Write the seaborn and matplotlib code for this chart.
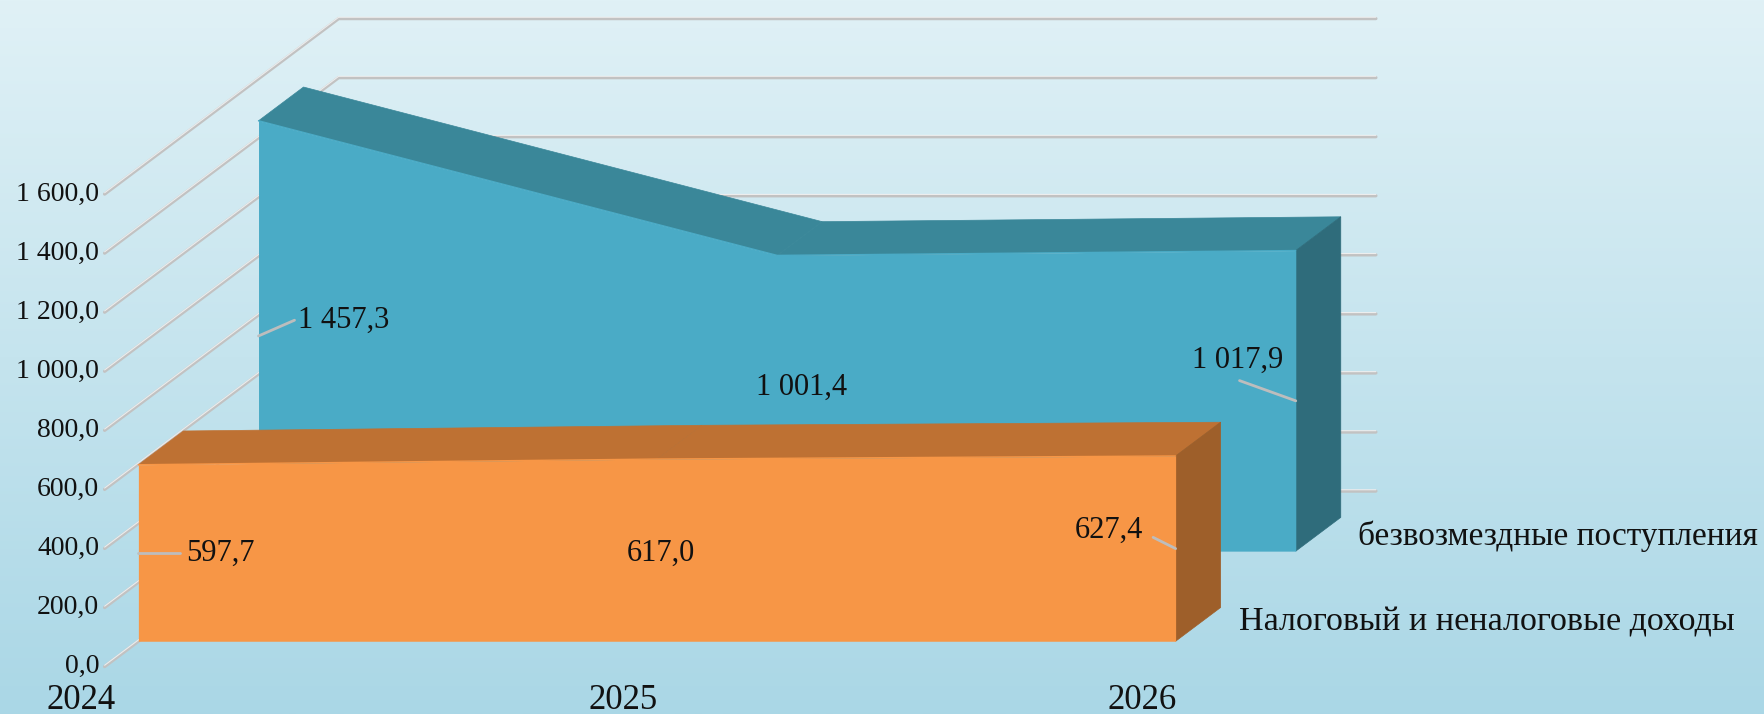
import numpy as np
import pandas as pd
import matplotlib
matplotlib.use('Agg')
import matplotlib.pyplot as plt
import seaborn as sns

years = ['2024', '2025', '2026']
grants = [1457.3, 1001.4, 1017.9]
own_income = [597.7, 617.0, 627.4]
grants_labels = ['1 457,3', '1 001,4', '1 017,9']
own_labels = ['597,7', '617,0', '627,4']
series_names = ['безвозмездные поступления', 'Налоговый и неналоговые доходы']
y_ticks = [0, 200, 400, 600, 800, 1000, 1200, 1400, 1600]
y_tick_labels = ['0,0', '200,0', '400,0', '600,0', '800,0', '1 000,0', '1 200,0', '1 400,0', '1 600,0']

sns.set_style('white')
plt.rcParams['font.family'] = ['Liberation Serif', 'DejaVu Serif']

S = 1764 / 1568   # layout was measured on a 1568px wide copy
XPX = 461.0 * S    # px per year step
YPX = 0.2625 * S   # px per value unit
DX = 40 * S / XPX  # one unit of depth: right and up
DY = 30 * S / YPX


def proj(i, v, d):
    return i + d * DX, v + d * DY


def off(xy, dxp, dyp):
    # shift a data point by screen pixels (dyp positive = down)
    return xy[0] + dxp * S / XPX, xy[1] - dyp * S / YPX


fig = plt.figure(figsize=(17.64, 7.14), dpi=100)
ax = fig.add_axes([0, 0, 1, 1])
x0, x1 = -123 * S / XPX, (1764 - 123 * S) / XPX
y0, y1 = (570 * S - 714) / YPX, 570 * S / YPX
ax.set_xlim(x0, x1)
ax.set_ylim(y0, y1)
ax.axis('off')

# background gradient
top = np.array([224, 241, 246]) / 255
bot = np.array([170, 215, 230]) / 255
t = np.linspace(0, 1, 256)[:, None]
grad = (top[None, :] * (1 - t) + bot[None, :] * t)[:, None, :]
ax.imshow(grad, extent=[x0, x1, y0, y1], aspect='auto', zorder=0)

D_FRONT, D_BACK = -0.75, 4.45
grid_c = '#c2c2c2'
txt_c = '#111111'

# back wall and left wall grid
n = len(years) - 1
for v, lab in zip(y_ticks, y_tick_labels):
    bx, by = proj(0, v, D_BACK)
    ex, ey = proj(n, v, D_BACK)
    fx, fy = proj(0, v, D_FRONT)
    ax.plot([fx, bx, ex], [fy, by, ey], color=grid_c, lw=2.4, zorder=1, solid_joinstyle='miter')
    ax.plot([fx, bx, ex], [fy + 1.3 / YPX, by + 1.3 / YPX, ey + 1.3 / YPX], color='white', lw=0.8, alpha=0.7, zorder=1)
    ax.text(*off((fx, fy), -5, 0), lab, ha='right', va='center', fontsize=20, color=txt_c, zorder=5)

# year labels under the front edge
for i, yr in enumerate(years):
    px, py = proj(i, 0, D_FRONT)
    if i == 0:
        ax.text(*off((px, py), 10, 30), yr, ha='right', va='center', fontsize=25, color=txt_c, zorder=5)
    else:
        ax.text(*off((px, py), 0, 30), yr, ha='center', va='center', fontsize=25, color=txt_c, zorder=5)


def area3d(vals, d0, d1, front, topc, side, z):
    xs = np.arange(len(vals))
    fxs = xs + d0 * DX
    ax.fill_between(fxs, d0 * DY, np.array(vals) + d0 * DY, color=front, lw=0, zorder=z + 1)
    sns.lineplot(x=fxs, y=np.array(vals) + d0 * DY, ax=ax, color=front, lw=1, zorder=z + 1)
    for k in range(len(vals) - 1):
        pts = [proj(k, vals[k], d0), proj(k + 1, vals[k + 1], d0),
               proj(k + 1, vals[k + 1], d1), proj(k, vals[k], d1)]
        ax.fill([p[0] for p in pts], [p[1] for p in pts], color=topc, lw=0.5, ec=topc, zorder=z)
    k = len(vals) - 1
    pts = [proj(k, 0, d0), proj(k, vals[k], d0), proj(k, vals[k], d1), proj(k, 0, d1)]
    ax.fill([p[0] for p in pts], [p[1] for p in pts], color=side, lw=0.5, ec=side, zorder=z)


# back row (grants) then front row (own income)
area3d(grants, 2.67, 3.67, '#4aabc6', '#3a8799', '#2f6c7b', 2)
area3d(own_income, 0.0, 1.0, '#f79646', '#be7133', '#9e5f2a', 4)

lead_c = '#bdbdbd'
lab_fs = 22

# grants labels
a = proj(0, grants[0] / 2, 2.67)
b = off(a, 32, -14)
ax.plot([a[0], b[0]], [a[1], b[1]], color=lead_c, lw=2, zorder=6)
ax.text(*off(b, 3, 0), grants_labels[0], ha='left', va='center', fontsize=lab_fs, color=txt_c, zorder=7)
a = proj(1, grants[1] / 2, 2.67)
ax.text(*off(a, 22, -14), grants_labels[1], ha='center', va='center', fontsize=lab_fs, color=txt_c, zorder=7)
a = proj(2, grants[2] / 2, 2.67)
b = off(a, -50, -18)
ax.plot([a[0], b[0]], [a[1], b[1]], color=lead_c, lw=2, zorder=6)
ax.text(*off(a, -52, -36), grants_labels[2], ha='center', va='center', fontsize=lab_fs, color=txt_c, zorder=7)

# own income labels
a = proj(0, own_income[0] / 2, 0)
b = off(a, 37, 0)
ax.plot([a[0], b[0]], [a[1], b[1]], color=lead_c, lw=2, zorder=6)
ax.text(*off(b, 5, 0), own_labels[0], ha='left', va='center', fontsize=lab_fs, color=txt_c, zorder=7)
a = proj(1, own_income[1] / 2, 0)
ax.text(*off(a, 3, 3), own_labels[1], ha='center', va='center', fontsize=lab_fs, color=txt_c, zorder=7)
a = proj(2, own_income[2] / 2, 0)
b = off(a, -20, -10)
ax.plot([a[0], b[0]], [a[1], b[1]], color=lead_c, lw=2, zorder=6)
ax.text(*off(a, -59, -16), own_labels[2], ha='center', va='center', fontsize=lab_fs, color=txt_c, zorder=7)

# series names at the end of each row
ax.text(*off(proj(2, 0, 3.67), 15, 17), series_names[0], ha='left', va='center', fontsize=24, color=txt_c, zorder=7)
ax.text(*off(proj(2, 0, 1.0), 16, 13), series_names[1], ha='left', va='center', fontsize=24.5, color=txt_c, zorder=7)

fig.savefig('out.png', dpi=100)
